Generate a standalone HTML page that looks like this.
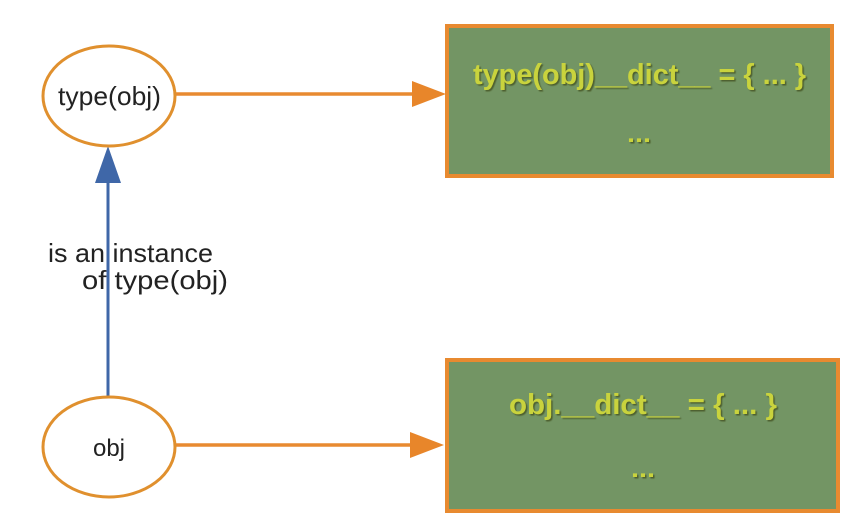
<!DOCTYPE html>
<html><head><style>html,body{margin:0;padding:0;background:#fff}svg{display:block}</style></head>
<body>
<svg width="860" height="532" viewBox="0 0 860 532" xmlns="http://www.w3.org/2000/svg" xml:space="preserve">
<defs>
<filter id="sh" x="-5%" y="-20%" width="110%" height="140%"><feDropShadow dx="1.5" dy="1.5" stdDeviation="0.4" flood-color="#4a5a2a" flood-opacity="0.9"/></filter>
</defs>
<rect width="860" height="532" fill="#fff"/>
<rect x="447" y="26" width="385" height="150" fill="#739564" stroke="#e88a30" stroke-width="4"/>
<rect x="447" y="360" width="391" height="151" fill="#739564" stroke="#e88a30" stroke-width="4"/>
<g font-family="Liberation Sans, sans-serif" font-weight="bold" fill="#c9d33c" filter="url(#sh)">
<text x="473" y="84" font-size="29" textLength="333" lengthAdjust="spacingAndGlyphs">type(obj)__dict__ = {  ...  }</text>
<text x="627" y="142" font-size="24" textLength="24" lengthAdjust="spacingAndGlyphs">...</text>
<text x="509" y="414" font-size="29" textLength="268" lengthAdjust="spacingAndGlyphs">obj.__dict__ = {  ...  }</text>
<text x="631" y="477" font-size="24" textLength="24" lengthAdjust="spacingAndGlyphs">...</text>
</g>
<line x1="176" y1="94" x2="415" y2="94" stroke="#e88a30" stroke-width="3.5"/>
<polygon points="412,81 446,94 412,107" fill="#e8862a"/>
<line x1="176" y1="445" x2="413" y2="445" stroke="#e88a30" stroke-width="3.5"/>
<polygon points="410,432 444,445 410,458" fill="#e8862a"/>
<line x1="108" y1="397" x2="108" y2="178" stroke="#3f67a8" stroke-width="3"/>
<polygon points="108,146 121,183 95,183" fill="#3f67a8"/>
<ellipse cx="109" cy="96" rx="66" ry="50" fill="#fff" stroke="#e0902e" stroke-width="3"/>
<ellipse cx="109" cy="447" rx="66" ry="50" fill="#fff" stroke="#e0902e" stroke-width="3"/>
<g font-family="Liberation Sans, sans-serif" fill="#222" font-size="26">
<text x="58" y="105" textLength="103" lengthAdjust="spacingAndGlyphs">type(obj)</text>
<text x="109" y="456" text-anchor="middle" font-size="24">obj</text>
<text x="48" y="262" textLength="165" lengthAdjust="spacingAndGlyphs">is an instance</text>
<text x="82" y="289" textLength="146" lengthAdjust="spacingAndGlyphs">of  type(obj)</text>
</g>
</svg>
</body></html>
